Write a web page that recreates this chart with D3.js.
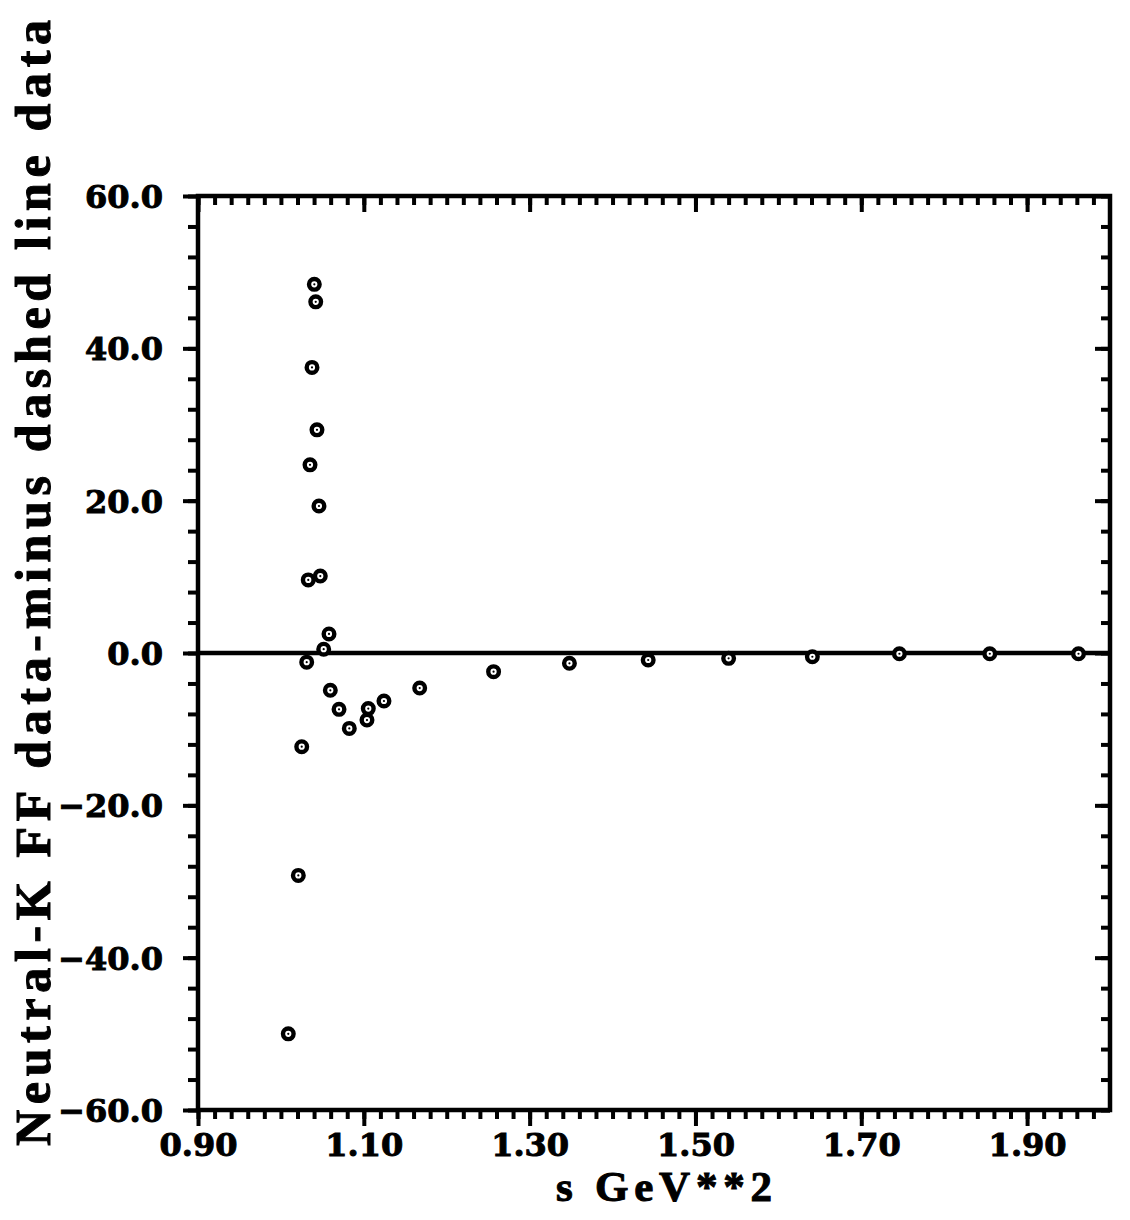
<!DOCTYPE html>
<html>
<head>
<meta charset="utf-8">
<script src="https://cdn.jsdelivr.net/npm/d3@7"></script>
<style>
    body { margin: 0; background: #fff; }
</style>
</head>
<body>
<div id="chart"></div>
<script>
// values
const sValues = [1.0089, 1.0210, 1.0251, 1.0311, 1.0330, 1.0351, 1.0375, 1.0403, 1.0420, 1.0435,
    1.0459, 1.0475, 1.0516, 1.0580, 1.0596, 1.0701, 1.0825, 1.1038, 1.1054, 1.1243,
    1.1674, 1.2565, 1.3480, 1.4430, 1.5400, 1.6410, 1.7460, 1.8550, 1.9620];
const diffValues = [-50.0, -29.2, -12.3, -1.2, 9.6, 24.7, 37.5, 48.4, 46.1, 29.3,
    19.3, 10.1, 0.5, 2.5, -4.9, -7.4, -9.9, -8.8, -7.3, -6.3,
    -4.6, -2.45, -1.35, -0.92, -0.70, -0.49, -0.1, -0.1, -0.1];

const xMajorTicks = [0.90, 1.10, 1.30, 1.50, 1.70, 1.90];
const xMinorTicks = d3.range(0, 55).map(i => 0.90 + i * 0.02).filter(v => v < 1.999);
const yMajorTicks = [-60, -40, -20, 0, 20, 40, 60];
const yMinorTicks = d3.range(-60, 61, 4);

const xTitle = "s GeV**2";
const yTitle = "Neutral-K FF data-minus dashed line data";

const W = 1130, H = 1220;
const margin = { top: 196, right: 20, bottom: 110, left: 198 };
const width = W - margin.left - margin.right;   // 912
const height = H - margin.top - margin.bottom;  // 914

const labelFont = "'DejaVu Serif', serif";
const titleFont = "'Liberation Serif', 'Times New Roman', serif";

const svg = d3.select("#chart")
    .append("svg")
    .attr("width", W)
    .attr("height", H)
    .style("background", "#fff");

const g = svg.append("g")
    .attr("transform", "translate(" + margin.left + "," + margin.top + ")");

const x = d3.scaleLinear().domain([0.90, 2.00]).range([0, width]);
const y = d3.scaleLinear().domain([-60, 60]).range([height, 0]);

const fmtY = d => (d < 0 ? "\u2212" : "") + Math.abs(d).toFixed(1);
const fmtX = d => d.toFixed(2);

function styleTicks(sel) {
    sel.select(".domain").remove();
    sel.selectAll("line").attr("stroke", "#000").attr("stroke-width", 4);
}

// minor ticks (all four sides)
g.append("g").call(d3.axisLeft(y).tickValues(yMinorTicks).tickSize(10).tickFormat("")).call(styleTicks);
g.append("g").attr("transform", "translate(" + width + ",0)")
    .call(d3.axisLeft(y).tickValues(yMinorTicks).tickSize(9).tickFormat("")).call(styleTicks);
g.append("g").call(d3.axisBottom(x).tickValues(xMinorTicks).tickSize(9).tickFormat("")).call(styleTicks);
g.append("g").attr("transform", "translate(0," + height + ")")
    .call(d3.axisBottom(x).tickValues(xMinorTicks).tickSize(9).tickFormat("")).call(styleTicks);

// major ticks
const yAxisLeft = g.append("g")
    .call(d3.axisLeft(y).tickValues(yMajorTicks).tickSize(15).tickPadding(20).tickFormat(fmtY))
    .call(styleTicks);
g.append("g").attr("transform", "translate(" + width + ",0)")
    .call(d3.axisLeft(y).tickValues(yMajorTicks).tickSize(15).tickFormat("")).call(styleTicks);
g.append("g")
    .call(d3.axisBottom(x).tickValues(xMajorTicks).tickSize(16).tickFormat("")).call(styleTicks);
const xAxisBottom = g.append("g").attr("transform", "translate(0," + height + ")")
    .call(d3.axisBottom(x).tickValues(xMajorTicks).tickSize(16).tickFormat(fmtX))
    .call(styleTicks);

yAxisLeft.selectAll("text")
    .attr("font-family", labelFont)
    .attr("font-weight", "bold")
    .attr("font-size", 32)
    .attr("fill", "#000")
    .attr("stroke", "#000")
    .attr("stroke-width", 1)
    .attr("dy", "0.36em");

xAxisBottom.selectAll("text")
    .attr("font-family", labelFont)
    .attr("font-weight", "bold")
    .attr("font-size", 32)
    .attr("fill", "#000")
    .attr("stroke", "#000")
    .attr("stroke-width", 1)
    .attr("y", 46)
    .attr("dy", 0);

// frame
g.append("rect")
    .attr("x", 0)
    .attr("y", 0)
    .attr("width", width)
    .attr("height", height)
    .attr("fill", "none")
    .attr("stroke", "#000")
    .attr("stroke-width", 4.5);

// zero line
g.append("line")
    .attr("x1", 0)
    .attr("x2", width)
    .attr("y1", y(0))
    .attr("y2", y(0))
    .attr("stroke", "#000")
    .attr("stroke-width", 4.5);

// points
const pts = sValues.map((s, i) => ({ s: s, v: diffValues[i] }));

const marks = g.append("g").selectAll("g")
    .data(pts)
    .join("g")
    .attr("transform", d => "translate(" + x(d.s) + "," + y(d.v) + ")");

marks.append("circle")
    .attr("r", 5.3)
    .attr("fill", "#fff")
    .attr("stroke", "#000")
    .attr("stroke-width", 4.4);

marks.append("circle")
    .attr("r", 1.1)
    .attr("fill", "#000");

// axis titles
svg.append("text")
    .text(xTitle)
    .attr("x", 664)
    .attr("y", 1201)
    .attr("text-anchor", "middle")
    .attr("font-family", titleFont)
    .attr("font-weight", "bold")
    .attr("font-size", 43)
    .attr("stroke", "#000")
    .attr("stroke-width", 1)
    .attr("textLength", 216)
    .attr("lengthAdjust", "spacing");

svg.append("text")
    .text(yTitle)
    .attr("transform", "translate(50," + (1146 + 20) / 2 + ") rotate(-90)")
    .attr("text-anchor", "middle")
    .attr("font-family", titleFont)
    .attr("font-weight", "bold")
    .attr("font-size", 50)
    .attr("stroke", "#000")
    .attr("stroke-width", 1)
    .attr("textLength", 1126)
    .attr("lengthAdjust", "spacing");
</script>
</body>
</html>
